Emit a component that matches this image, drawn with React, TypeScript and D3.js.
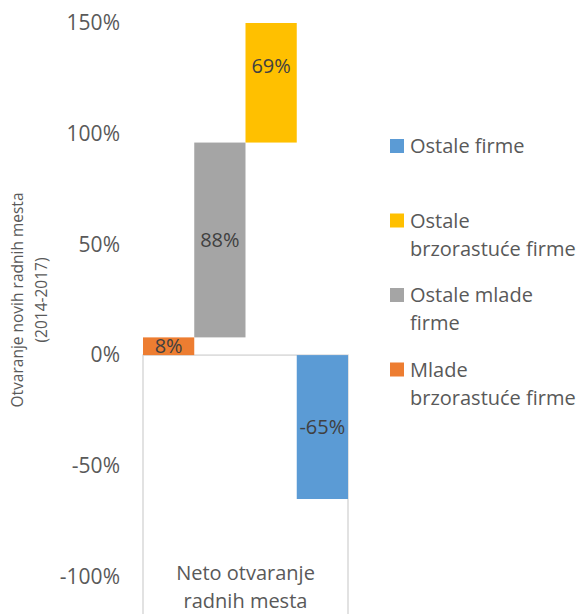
import React from "react";
import * as d3 from "d3";

const series = ["Mlade brzorastuće firme", "Ostale mlade firme", "Ostale brzorastuće firme", "Ostale firme"];
const values = [8, 88, 69, -65];
const colors = ["#ED7D31", "#A5A5A5", "#FFC000", "#5B9BD5"];
const legendLines = [["Mlade", "brzorastuće firme"], ["Ostale mlade", "firme"], ["Ostale", "brzorastuće firme"], ["Ostale firme"]];
const category = ["Neto otvaranje", "radnih mesta"];
const yTicks = [-100, -50, 0, 50, 100, 150];
const yTitle = ["Otvaranje novih radnih mesta", "(2014-2017)"];

const W = 584, H = 614;
const FONT = "'Open Sans', 'Noto Sans', sans-serif";
const TXT = "#595959";

export default function App() {
  const y = d3.scaleLinear().domain([-100, 150]).range([576.5, 23]);
  const x = d3.scaleBand<string>().domain(series).range([143, 348]).padding(0);
  const row: Record<string, number> = {};
  series.forEach((s, i) => (row[s] = values[i]));
  const stacked = d3.stack<Record<string, number>>().keys(series).offset(d3.stackOffsetDiverging)([row]);
  const bw = x.bandwidth();
  const legendOrder = [3, 2, 1, 0];

  return (
    <svg width={W} height={H} style={{ position: "absolute", left: 0, top: 0, fontFamily: FONT }}>
      <defs>
        <clipPath id="plot">
          <rect x={0} y={y(150)} width={W} height={H} />
        </clipPath>
      </defs>
      <rect width={W} height={H} fill="#fff" />
      <rect x={x.range()[0]} y={y(0)} width={x.range()[1] - x.range()[0]} height={y(-120) - y(0)}
        fill="#fff" stroke="#D9D9D9" strokeWidth={1.5} />
      {yTicks.map((t) => (
        <text key={t} x={120} y={y(t)} dy="0.35em" textAnchor="end" fontSize={21} fill={TXT}>
          {t}%
        </text>
      ))}
      <g transform={`translate(18,300) rotate(-90)`}>
        {yTitle.map((l, i) => (
          <text key={i} x={0} y={i * 24} dy="0.35em" textAnchor="middle" fontSize={15.5} fill={TXT}>{l}</text>
        ))}
      </g>
      <g clipPath="url(#plot)">
        {stacked.map((s, i) => {
          const [a, b] = s[0];
          return (
            <rect key={s.key} x={x(s.key)} y={y(Math.max(a, b))} width={bw}
              height={Math.abs(y(a) - y(b))} fill={colors[i]} />
          );
        })}
      </g>
      {stacked.map((s, i) => {
        const [a, b] = s[0];
        const mid = (a + b) / 2;
        return (
          <text key={s.key} x={(x(s.key) as number) + bw / 2} y={y(mid)} dy="0.35em" textAnchor="middle"
            fontSize={20} fill="#404040">
            {values[i]}%
          </text>
        );
      })}
      {category.map((l, i) => (
        <text key={i} x={(x.range()[0] + x.range()[1]) / 2} y={573 + i * 28} dy="0.35em" textAnchor="middle"
          fontSize={20} fill={TXT}>{l}</text>
      ))}
      {legendOrder.map((si, k) => {
        const cy = 146 + k * 74.5;
        return (
          <g key={si}>
            <rect x={390} y={cy - 7} width={14} height={14} fill={colors[si]} />
            {legendLines[si].map((l, j) => (
              <text key={j} x={410} y={cy + j * 28} dy="0.35em" fontSize={20} fill={TXT}>{l}</text>
            ))}
          </g>
        );
      })}
    </svg>
  );
}
